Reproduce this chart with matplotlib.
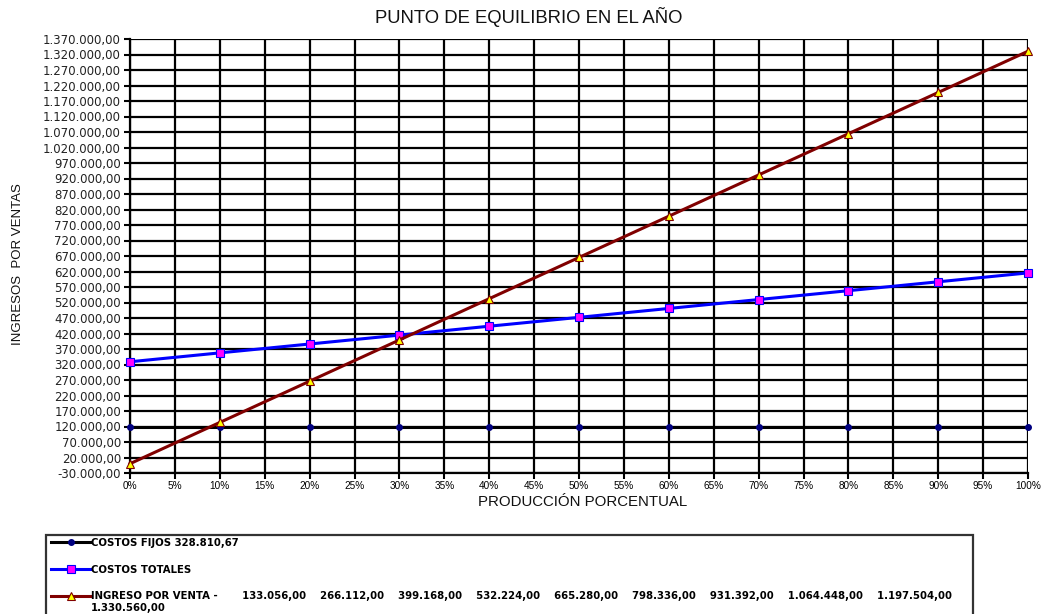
import matplotlib
matplotlib.use("Agg")
import matplotlib.pyplot as plt
from matplotlib.patches import Rectangle

plt.rcParams['font.family'] = ['Liberation Sans', 'DejaVu Sans']

# produccion porcentual (%)
produccion = [0, 10, 20, 30, 40, 50, 60, 70, 80, 90, 100]
costos_fijos = [120000, 120000, 120000, 120000, 120000, 120000,
                120000, 120000, 120000, 120000, 120000]
costos_totales = [328810.67, 357500, 386100, 414800, 443500, 472100,
                  500800, 529500, 558100, 586800, 615500]
ingreso_venta = [0, 133056, 266112, 399168, 532224, 665280,
                 798336, 931392, 1064448, 1197504, 1330560]

x_ticks = list(range(0, 105, 5))
y_ticks = list(range(-30000, 1370001, 50000))

label_fijos = "COSTOS FIJOS 328.810,67"
label_totales = "COSTOS TOTALES"


def formato(v):
    s = f"{v:,.2f}"
    return s.replace(",", "X").replace(".", ",").replace("X", ".")


label_ingreso = ("INGRESO POR VENTA -" + " " * 7
                 + (" " * 4).join(formato(v) for v in ingreso_venta[1:-1]))

fig = plt.figure(figsize=(10.48, 6.14), dpi=100)
ax = fig.add_axes([130 / 1048, 1 - 473 / 614, 898 / 1048, 434 / 614])

ax.plot(produccion, costos_fijos, color="black", lw=2.2, marker="o",
        markersize=4, markerfacecolor="#000080", markeredgecolor="#000080",
        clip_on=False, zorder=5, label=label_fijos)
ax.plot(produccion, costos_totales, color="#0000FF", lw=2.2, marker="s",
        markersize=6, markerfacecolor="#FF00FF", markeredgecolor="#0000FF",
        markeredgewidth=0.8, clip_on=False, zorder=6, label=label_totales)
ax.plot(produccion, ingreso_venta, color="#800000", lw=2.2, marker="^",
        markersize=6, markerfacecolor="#FFFF00", markeredgecolor="#800000",
        markeredgewidth=0.8, clip_on=False, zorder=7, label=label_ingreso)

ax.set_xlim(0, 100)
ax.set_ylim(-30000, 1370000)
ax.set_xticks(x_ticks)
ax.set_xticklabels([f"{t}%" for t in x_ticks], fontsize=7.2)
ax.set_yticks(y_ticks)
ax.set_yticklabels([formato(t) for t in y_ticks], fontsize=8.5,
                   family="DejaVu Sans", color="#222222")
ax.tick_params(axis="both", length=4, width=1.5, color="black")
ax.tick_params(axis="y", pad=2.5)
ax.tick_params(axis="x", pad=1.5)
ax.grid(True, color="black", lw=1.6)
for side in ["top", "right"]:
    ax.spines[side].set_visible(False)
ax.spines["left"].set_linewidth(1.6)
ax.spines["bottom"].set_linewidth(1.6)

fig.text(529 / 1048, 1 - 17 / 614, "PUNTO DE EQUILIBRIO EN EL AÑO",
         ha="center", va="center", fontsize=13.3, color="#111111")
fig.text(583 / 1048, 1 - 502 / 614, "PRODUCCIÓN PORCENTUAL",
         ha="center", va="center", fontsize=10.8, color="#111111")
fig.text(18 / 1048, 1 - 264 / 614, "INGRESOS  POR VENTAS", rotation=90,
         ha="center", va="center", fontsize=9.5, color="#111111")

# caja de la leyenda
fig.patches.append(Rectangle((46 / 1048, -0.05), 927 / 1048,
                             0.05 + 1 - 535 / 614, transform=fig.transFigure,
                             fill=False, edgecolor="#333333", lw=1.6))
leg = fig.legend(loc="upper left", bbox_to_anchor=(49 / 1048, 1 - 536 / 614),
                 frameon=False, handlelength=3.9, handletextpad=0.0,
                 labelspacing=1.65, borderpad=0.2, borderaxespad=0,
                 prop={"family": "DejaVu Sans", "weight": "bold", "size": 7.3})

# ultimo valor del ingreso en una segunda linea bajo la leyenda
fig.canvas.draw()
bb = leg.get_texts()[2].get_window_extent().transformed(fig.transFigure.inverted())
fig.text(bb.x0, bb.y0 - 0.002, formato(ingreso_venta[-1]), ha="left", va="top",
         family="DejaVu Sans", weight="bold", fontsize=7.3)

fig.savefig("out.png", dpi=100)
